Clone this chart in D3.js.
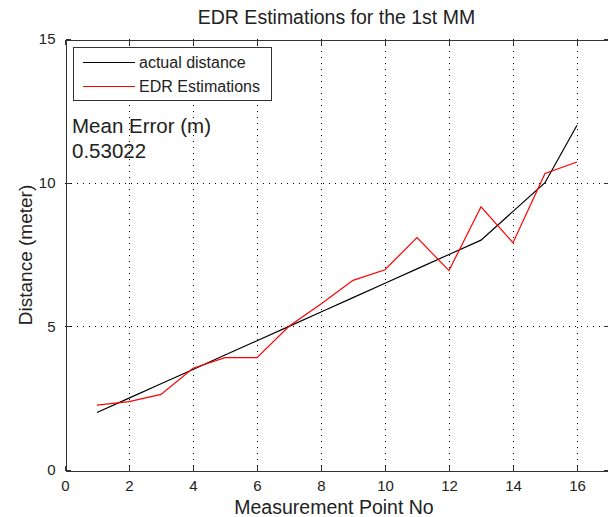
<!DOCTYPE html>
<html><head><meta charset="utf-8">
<script src="https://cdn.jsdelivr.net/npm/d3@7"></script>
<style>html,body{margin:0;padding:0;background:#fff;overflow:hidden}</style>
</head><body>
<script>
const points = [1,2,3,4,5,6,7,8,9,10,11,12,13,14,15,16];
const actualDistance = [2.0,2.5,3.0,3.5,4.0,4.5,5.0,5.5,6.0,6.5,7.0,7.5,8.0,9.0,10.0,12.0];
const edrEstimations = [2.26,2.38,2.63,3.54,3.91,3.91,5.0,5.78,6.6,6.97,8.09,6.94,9.16,7.91,10.32,10.72];
const xTicks = [0,2,4,6,8,10,12,14,16];
const yTicks = [0,5,10,15];
const titleText = "EDR Estimations for the 1st MM";
const xLabel = "Measurement Point No";
const yLabel = "Distance (meter)";
const legendLabels = ["actual distance","EDR Estimations"];
const annotation = ["Mean Error (m)","0.53022"];

const W = 608, H = 517;
const L = 65, R = 609, T = 39, B = 470;
const font = "'Liberation Sans', Arial, Helvetica, sans-serif";

const svg = d3.select("body").append("svg").attr("width", W).attr("height", H)
  .style("font-family", font);
svg.append("rect").attr("width", W).attr("height", H).attr("fill", "#fff");

const x = d3.scaleLinear().domain([0,17]).range([L,R]);
const y = d3.scaleLinear().domain([0,15]).range([B,T]);

// grid
const grid = svg.append("g").attr("stroke","#000").attr("stroke-width",1)
  .attr("stroke-dasharray","1,5").attr("shape-rendering","crispEdges");
xTicks.filter(d => d>0).forEach(d => {
  grid.append("line").attr("x1",Math.round(x(d))+0.5).attr("x2",Math.round(x(d))+0.5)
    .attr("y1",T).attr("y2",B);
});
yTicks.filter(d => d>0 && d<15).forEach(d => {
  grid.append("line").attr("y1",Math.round(y(d))+0.5).attr("y2",Math.round(y(d))+0.5)
    .attr("x1",L).attr("x2",R);
});

// axes (ticks inward)
const axB = svg.append("g").attr("transform",`translate(0,${B+0.5})`)
  .call(d3.axisBottom(x).tickValues(xTicks).tickSizeInner(-5).tickSizeOuter(0).tickPadding(10).tickFormat(d3.format("d")));
const axT = svg.append("g").attr("transform",`translate(0,${T+0.5})`)
  .call(d3.axisTop(x).tickValues(xTicks).tickSizeInner(-5).tickSizeOuter(0).tickFormat(""));
const axL = svg.append("g").attr("transform",`translate(${L+0.5},0)`)
  .call(d3.axisLeft(y).tickValues(yTicks).tickSizeInner(-5).tickSizeOuter(0).tickPadding(10).tickFormat(d3.format("d")));
const axR = svg.append("g").attr("transform",`translate(${R-0.5},0)`)
  .call(d3.axisRight(y).tickValues(yTicks).tickSizeInner(-5).tickSizeOuter(0).tickFormat(""));
[axB,axT,axL,axR].forEach(a => {
  a.selectAll("path,line").attr("stroke","#333").attr("shape-rendering","crispEdges");
  a.selectAll("text").attr("fill","#222").style("font-family",font).style("font-size","15px");
});
axB.selectAll("text").attr("dy","0.71em");

// lines
const line = d3.line().x((d,i) => x(points[i])).y(d => y(d));
svg.append("path").datum(actualDistance).attr("d",line).attr("fill","none")
  .attr("stroke","#000").attr("stroke-width",1.2);
svg.append("path").datum(edrEstimations).attr("d",line).attr("fill","none")
  .attr("stroke","#ff0000").attr("stroke-width",1.2);

// title & labels
svg.append("text").attr("x",336.5).attr("y",24).attr("text-anchor","middle")
  .style("font-size","19.5px").attr("fill","#222").text(titleText);
svg.append("text").attr("x",334).attr("y",514).attr("text-anchor","middle")
  .style("font-size","19.5px").attr("fill","#222").text(xLabel);
svg.append("text").attr("transform","translate(32,255) rotate(-90)").attr("text-anchor","middle")
  .style("font-size","19px").attr("fill","#222").text(yLabel);

// legend
const lg = svg.append("g");
lg.append("rect").attr("x",73.5).attr("y",47.5).attr("width",198).attr("height",53)
  .attr("fill","#fff").attr("stroke","#333").attr("stroke-width",1);
const colors = ["#000","#ff0000"];
legendLabels.forEach((t,i) => {
  const yy = 62 + i*24;
  lg.append("line").attr("x1",83).attr("x2",135).attr("y1",yy+0.5).attr("y2",yy+0.5)
    .attr("stroke",colors[i]).attr("stroke-width",1);
  lg.append("text").attr("x",139).attr("y",yy).attr("dy","0.35em")
    .style("font-size","16px").attr("fill","#222").text(t);
});

// annotation
annotation.forEach((t,i) => {
  svg.append("text").attr("x",72).attr("y",133 + i*25)
    .style("font-size","20.5px").attr("fill","#222").text(t);
});
</script>
</body></html>
